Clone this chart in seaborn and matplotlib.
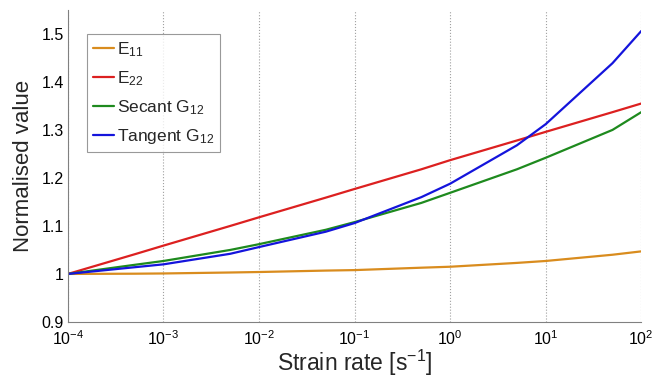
import numpy as np
import pandas as pd
import matplotlib
matplotlib.use("Agg")
import matplotlib.pyplot as plt
import seaborn as sns
from matplotlib.ticker import LogLocator, NullFormatter, FixedLocator

strain_rate = [1e-4, 5e-4, 1e-3, 5e-3, 1e-2, 5e-2, 1e-1, 5e-1, 1e0, 5e0, 1e1, 5e1, 1e2]
e11 = [1.000, 1.0005, 1.001, 1.003, 1.004, 1.007, 1.008, 1.013, 1.015, 1.023, 1.027, 1.040, 1.047]
e22 = [1.000, 1.041, 1.059, 1.100, 1.118, 1.159, 1.177, 1.218, 1.237, 1.278, 1.296, 1.337, 1.355]
secant_g12 = [1.000, 1.019, 1.027, 1.050, 1.062, 1.092, 1.108, 1.148, 1.169, 1.218, 1.242, 1.300, 1.337]
tangent_g12 = [1.000, 1.014, 1.020, 1.042, 1.056, 1.088, 1.106, 1.160, 1.188, 1.268, 1.312, 1.439, 1.506]
series_names = ["E$_{11}$", "E$_{22}$", "Secant G$_{12}$", "Tangent G$_{12}$"]
series_colors = ["#D98C1E", "#DC2020", "#1E8A1E", "#1414DC"]

sns.set_style("white")
plt.rcParams["font.family"] = ["Liberation Sans", "DejaVu Sans"]
plt.rcParams["mathtext.fontset"] = "custom"
plt.rcParams["mathtext.rm"] = "Liberation Sans"
plt.rcParams["mathtext.it"] = "Liberation Sans:italic"
plt.rcParams["mathtext.bf"] = "Liberation Sans:bold"

rows = []
for name, vals in zip(series_names, [e11, e22, secant_g12, tangent_g12]):
    for x, v in zip(strain_rate, vals):
        rows.append({"x": x, "y": v, "series": name})
df = pd.DataFrame(rows)

fig = plt.figure(figsize=(6.53, 3.81), dpi=100)
ax = fig.add_axes([0.104, 0.155, 0.878, 0.819])

sns.lineplot(data=df, x="x", y="y", hue="series", hue_order=series_names,
             palette=series_colors, linewidth=1.6, ax=ax, sort=False)

ax.set_xscale("log")
ax.set_xlim(1e-4, 1e2)
ax.set_ylim(0.9, 1.55)
ax.set_yticks([0.9, 1.0, 1.1, 1.2, 1.3, 1.4, 1.5])
ax.set_yticklabels(["0.9", "1", "1.1", "1.2", "1.3", "1.4", "1.5"])
ax.xaxis.set_major_locator(FixedLocator([1e-4, 1e-3, 1e-2, 1e-1, 1e0, 1e1, 1e2]))
ax.set_xticklabels([r"$10^{-4}$", r"$10^{-3}$", r"$10^{-2}$", r"$10^{-1}$",
                    r"$10^{0}$", r"$10^{1}$", r"$10^{2}$"])
ax.xaxis.set_minor_locator(LogLocator(base=10, subs=np.arange(2, 10), numticks=20))
ax.xaxis.set_minor_formatter(NullFormatter())

ax.tick_params(axis="both", which="major", direction="in", length=4, color="#808080",
               labelsize=11.5, labelcolor="black", pad=3)
ax.tick_params(axis="x", which="major", pad=5.5)
ax.tick_params(axis="x", which="minor", direction="in", length=2.5, color="#808080")
ax.tick_params(axis="y", which="minor", length=0)

for s in ["top", "right"]:
    ax.spines[s].set_visible(False)
for s in ["left", "bottom"]:
    ax.spines[s].set_color("#808080")
    ax.spines[s].set_linewidth(0.8)

ax.grid(False)
ax.xaxis.grid(True, which="major", linestyle=":", color="#A0A0A0", linewidth=0.8)

ax.set_xlabel("Strain rate [s$^{-1}$]", fontsize=16.5, labelpad=0)
ax.set_ylabel("Normalised value", fontsize=16, labelpad=5)

leg = ax.legend(loc="upper left", bbox_to_anchor=(0.033, 0.923), fontsize=12.5,
                frameon=True, fancybox=False, handlelength=1.2, handletextpad=0.2,
                borderpad=0.35, labelspacing=0.6, borderaxespad=0)
leg.get_frame().set_edgecolor("#808080")
leg.get_frame().set_linewidth(0.8)

fig.savefig("out.png", dpi=100)
